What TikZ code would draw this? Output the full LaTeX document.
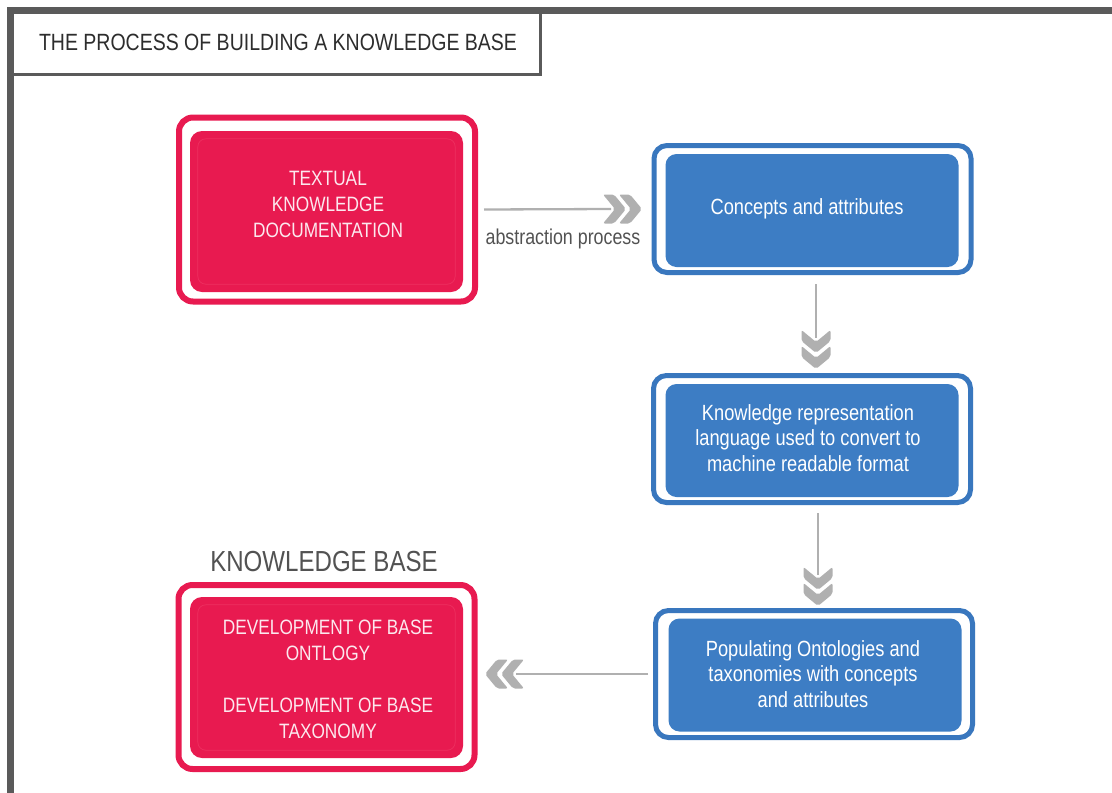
\documentclass[tikz,border=0pt]{standalone}
\usepackage{fontspec}
\setmainfont{Liberation Sans}[FakeStretch=0.83]

\definecolor{framegray}{RGB}{90,90,90}
\definecolor{titlegray}{RGB}{45,45,45}
\definecolor{labelgray}{RGB}{82,82,82}
\definecolor{kbred}{RGB}{232,26,80}
\definecolor{kbredline}{RGB}{237,48,96}
\definecolor{kbblue}{RGB}{61,125,196}
\definecolor{kbblueline}{RGB}{57,119,190}
\definecolor{conngray}{RGB}{176,176,176}
\definecolor{redtext}{RGB}{252,232,238}

\tikzset{
  x=1pt, y=-1pt,
  redouter/.style={draw=kbred, line width=6pt, rounded corners=14pt,
    minimum width=296pt, minimum height=184pt, inner sep=0pt},
  redinner/.style={fill=kbred, rounded corners=12pt,
    minimum width=273pt, minimum height=161pt, inner sep=0pt},
  blueouter/.style={draw=kbblueline, line width=5pt, rounded corners=13pt,
    minimum width=317pt, minimum height=127pt, inner sep=0pt},
  blueinner/.style={fill=kbblue, rounded corners=11pt,
    minimum width=293pt, minimum height=113pt, inner sep=0pt},
  redtxt/.style={text=redtext, align=center, inner sep=0pt,
    font=\fontsize{20.8}{26}\selectfont},
  bluetxt/.style={text=white, align=center, inner sep=0pt,
    font=\fontsize{22}{25.5}\selectfont},
  conn/.style={draw=conngray, line width=2.3pt},
  pics/chevrons/.style={code={
    \foreach \a in {0,16}{
      \fill[conngray, rounded corners=2pt]
        (\a,-14.5) -- (\a+11,-14.5) -- (\a+23,0) -- (\a+11,14.5)
        -- (\a,14.5) -- (\a+12,0) -- cycle;
    }
  }}
}

\begin{document}
\begin{tikzpicture}
  \useasboundingbox (0,0) rectangle (1112,793);
  \fill[white] (0,0) rectangle (1112,793);

  % title box and page frame
  \node[draw=framegray, line width=3pt, minimum width=530pt, minimum height=64.5pt,
        inner sep=0pt, text=titlegray, font=\fontsize{23.5}{28}\selectfont]
        (title) at (275,42.25) {\hspace*{6pt}THE PROCESS OF BUILDING A KNOWLEDGE BASE};
  \fill[framegray] (7,7) rectangle (1112,13.5);
  \fill[framegray] (7,7) rectangle (13.5,793);

  % red boxes
  \node[redouter] (r1) at (327,209.5) {};
  \node[redinner] (r1in) at (326.5,211.5) {};
  \draw[kbredline, line width=0.7pt, rounded corners=8pt]
    ([shift={(8,8)}]r1in.north west) rectangle ([shift={(-8,-8)}]r1in.south east);
  \node[redtxt] (r1txt) at (328,204) {TEXTUAL\\KNOWLEDGE\\DOCUMENTATION};

  \node[redouter] (r2) at (326.5,677) {};
  \node[redinner] (r2in) at (326.5,677.5) {};
  \draw[kbredline, line width=0.7pt, rounded corners=8pt]
    ([shift={(8,8)}]r2in.north west) rectangle ([shift={(-8,-8)}]r2in.south east);
  \node[redtxt] (r2txt) at (328,679)
    {DEVELOPMENT OF BASE\\ONTLOGY\\[26pt]DEVELOPMENT OF BASE\\TAXONOMY};
  \node[text=labelgray, inner sep=0pt, font=\fontsize{29}{33}\selectfont]
    (kb) at (324,562) {KNOWLEDGE BASE};

  % blue boxes
  \node[blueouter] (b1) at (812.5,209) {};
  \node[blueinner] (b1in) at (812,210.5) {};
  \node[bluetxt] (b1txt) at (807,209) {Concepts and attributes};

  \node[blueouter] (b2) at (812,439) {};
  \node[blueinner] (b2in) at (812,440.5) {};
  \node[bluetxt] (b2txt) at (808,438)
    {Knowledge representation\\language used to convert to\\machine readable format};

  \node[blueouter] (b3) at (814,674) {};
  \node[blueinner] (b3in) at (815,675) {};
  \node[bluetxt] (b3txt) at (813,674)
    {Populating Ontologies and\\taxonomies with concepts\\and attributes};

  % connectors with double chevron heads
  \coordinate (h1) at (603,209);
  \draw[conn] ([xshift=6pt]r1.east) -- ([xshift=8pt]h1);
  \pic at (h1) {chevrons};
  \node[text=labelgray, inner sep=0pt, font=\fontsize{21.5}{25}\selectfont]
    (abs) at (563,239) {abstraction process};

  \coordinate (d1) at (816,330);
  \draw[conn] (b1.south -| d1) ++(0,9) -- ([yshift=-8pt]d1);
  \pic[rotate=-90] at (d1) {chevrons};

  \coordinate (d2) at (818,567);
  \draw[conn] (b2.south -| d2) ++(0,8) -- ([yshift=-8pt]d2);
  \pic[rotate=-90] at (d2) {chevrons};

  \coordinate (l1) at (524,674);
  \draw[conn] (b3.west |- l1) ++(-5,0) -- ([xshift=-8pt]l1);
  \pic[rotate=180] at (l1) {chevrons};
\end{tikzpicture}
\end{document}
